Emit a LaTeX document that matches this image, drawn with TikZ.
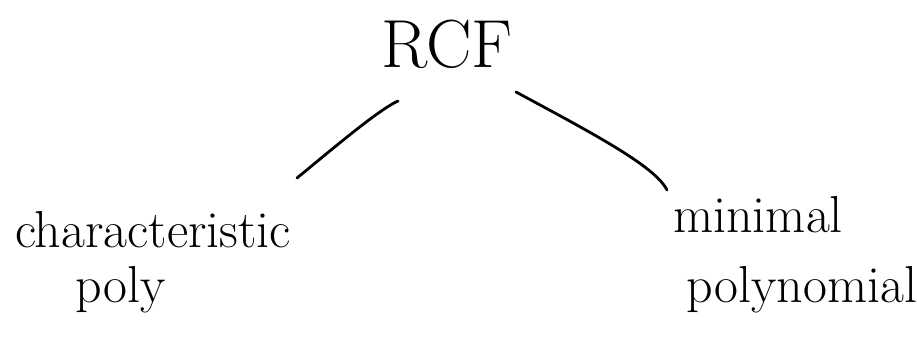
\documentclass[tikz,border=0pt]{standalone}
\begin{document}
\begin{tikzpicture}[x=1pt,y=-1pt,
  word/.style={inner sep=0pt, font=\fontsize{52}{56}\selectfont},
  title/.style={inner sep=0pt, font=\fontsize{68}{72}\selectfont},
  link/.style={line width=2.8pt, line cap=round}]
  \useasboundingbox (0,0) rectangle (917,357);
  % top node
  \node[title] (rcf) at (447,44) {RCF};
  % left branch labels
  \node[word, anchor=base] (char) at (153,247) {characteristic};
  \node[word, anchor=base] (poly) at (121,302) {poly};
  % right branch labels
  \node[word, anchor=base] (mini) at (758,232) {minimal};
  \node[word, anchor=base] (polynom) at (802,302) {polynomial};
  % connector ends
  \coordinate (lt) at (398,101);
  \coordinate (lb) at (297,178);
  \coordinate (rt) at (516,92);
  \coordinate (rb) at (667,190);
  \draw[link] (lb) .. controls (330,151) and (378,110) .. (lt);
  \draw[link] (rt) .. controls (592,133) and (655,166) .. (rb);
\end{tikzpicture}
\end{document}
